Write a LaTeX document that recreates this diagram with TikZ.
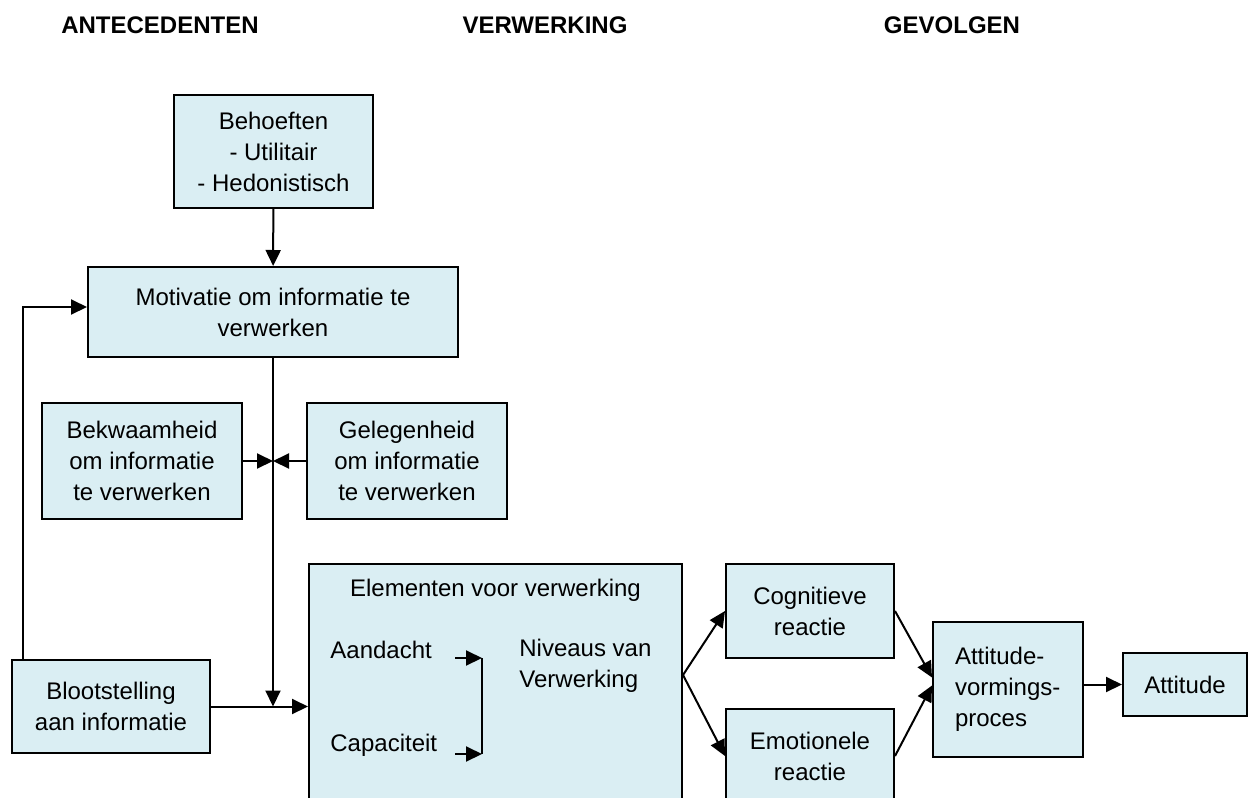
\documentclass[tikz,border=0pt]{standalone}
\usepackage{fontspec}
\setmainfont{Liberation Sans}
\usetikzlibrary{arrows.meta}
\definecolor{boxblue}{RGB}{218,238,243}

\begin{document}
\begin{tikzpicture}[
    x=0.5pt, y=-0.5pt,
    box/.style={rectangle, draw=black, line width=1pt, fill=boxblue, align=center, inner sep=0pt, font=\fontsize{12pt}{15.5pt}\selectfont},
    txt/.style={align=left, inner sep=0pt, font=\fontsize{12pt}{15.5pt}\selectfont},
    header/.style={inner sep=0pt, font=\fontsize{12pt}{14pt}\selectfont\bfseries},
    arrow/.style={-{Triangle[length=8pt,width=7.5pt]}, line width=1pt},
    line/.style={line width=1pt}
]
\useasboundingbox (0,0) rectangle (1248,798);

% Column headings
\node[header] at (160,25) (hant) {ANTECEDENTEN};
\node[header] at (545,25) (hver) {VERWERKING};
\node[header] at (952,25) (hgev) {GEVOLGEN};

% Antecedents
\node[box, minimum width=99.5pt, minimum height=56.5pt] at (273.5,151.5) (beh) {Behoeften\\- Utilitair\\- Hedonistisch};
\node[box, minimum width=185pt, minimum height=45pt] at (273,312) (motiv) {Motivatie om informatie te\\verwerken};
\node[box, minimum width=100pt, minimum height=58pt] at (142,461) (bekw) {Bekwaamheid\\om informatie\\te verwerken};
\node[box, minimum width=100pt, minimum height=58pt] at (407,461) (geleg) {Gelegenheid\\om informatie\\te verwerken};
\node[box, minimum width=99pt, minimum height=46.5pt] at (111,706.5) (bloot) {Blootstelling\\aan informatie};

% Processing
\node[box, minimum width=186.5pt, minimum height=133pt] at (495.5,697) (elem) {};
\node[txt] at (495.5,590) (elemtitle) {Elementen voor verwerking};
\node[txt, anchor=west] at (330,650) (aand) {Aandacht};
\node[txt, anchor=west] at (330,745) (capa) {Capaciteit};
\node[txt, anchor=west] at (519,666) (niv) {Niveaus van\\Verwerking};
\coordinate (aandout) at (455,658);
\coordinate (capout) at (455,754);
\coordinate (brtop) at (482,658);
\coordinate (brbot) at (482,754);

% Consequences
\node[box, minimum width=84pt, minimum height=47pt] at (810,611) (cog) {Cognitieve\\reactie};
\node[box, minimum width=84pt, minimum height=47pt] at (810,756) (emo) {Emotionele\\reactie};
\node[box, minimum width=75pt, minimum height=67.5pt, align=left, text width=53pt] at (1008,689.5) (vorm) {Attitude-\\vormings-\\proces};
\node[box, minimum width=62pt, minimum height=31.5pt] at (1185,684.5) (att) {Attitude};

% Arrows into the processing block
\coordinate (meet) at (motiv.south |- bekw.east);
\coordinate (join) at (motiv.south |- bloot.east);
\draw[arrow] (beh) -- (motiv);
\draw[arrow] (motiv) -- (join);
\draw[arrow] (bekw) -- (meet);
\draw[arrow] (geleg) -- (meet);
\draw[arrow] (bloot) -- (bloot.east -| elem.west);
\draw[arrow] ([xshift=-44pt]bloot.north) |- ([yshift=2.5pt]motiv.west);

% Inside the processing block
\draw[arrow] (aandout) -- (brtop);
\draw[arrow] (capout) -- (brbot);
\draw[line] (brtop) -- (brbot);

% Arrows to the consequences
\coordinate (split) at ([yshift=11pt]elem.east);
\draw[arrow] (split) -- (cog.west);
\draw[arrow] (split) -- (emo.west);
\draw[arrow] (cog.east) -- ([yshift=6pt]vorm.west);
\draw[arrow] (emo.east) -- ([yshift=2pt]vorm.west);
\draw[arrow] (vorm.east |- att.west) -- (att.west);

\end{tikzpicture}
\end{document}
